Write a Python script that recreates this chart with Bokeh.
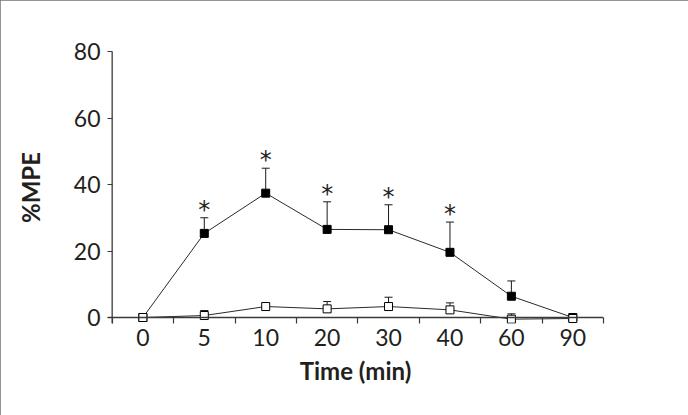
from bokeh.plotting import figure
from bokeh.models import (ColumnDataSource, FixedTicker, Range1d, Whisker, TeeHead, Span)
from bokeh.core.properties import value
from bokeh.embed import file_html
from bokeh.resources import INLINE

# ---- data ----
categories = ["0", "5", "10", "20", "30", "40", "60", "90"]
treated_mean = [0, 25.3, 37.4, 26.5, 26.4, 19.6, 6.4, 0.0]
treated_upper = [0, 30.0, 44.9, 34.8, 33.9, 28.7, 11.0, 0.5]
control_mean = [0, 0.6, 3.3, 2.6, 3.3, 2.3, -0.5, -0.3]
control_upper = [0, 2.1, 4.3, 4.8, 6.1, 4.4, 1.1, 0.0]
significant = [False, True, True, True, True, True, False, False]
y_ticks = [0, 20, 40, 60, 80]

xs = [i + 0.5 for i in range(len(categories))]

FONT = "Lato"
AXIS = "#3a3a3a"
TXT = "#231f20"

p = figure(width=688, height=415, output_backend="svg", toolbar_location=None,
           x_range=Range1d(-0.076, len(categories)), y_range=Range1d(-1.8, 80),
           min_border_left=107, min_border_right=85, min_border_top=51, min_border_bottom=92)
p.outline_line_color = None
p.xgrid.visible = False
p.ygrid.visible = False
p.background_fill_color = "white"
p.border_fill_color = "white"
p.styles = {"outline": "2px solid #707070", "outline-offset": "-2px"}

treat = ColumnDataSource(dict(x=xs, mean=treated_mean, upper=treated_upper))
ctrl = ColumnDataSource(dict(x=xs, mean=control_mean, upper=control_upper))
stars = ColumnDataSource(dict(
    x=[x for x, s in zip(xs, significant) if s],
    y=[u for u, s in zip(treated_upper, significant) if s],
    t=["*" for s in significant if s]))

# axis lines crossing at the origin
p.add_layout(Span(location=0, dimension="width", line_color=AXIS, line_width=1.3))
p.add_layout(Span(location=0, dimension="height", line_color=AXIS, line_width=1.3))

for src in (treat, ctrl):
    w = Whisker(base="x", upper="upper", lower="mean", source=src,
                line_color="#1a1a1a", line_width=1,
                upper_head=TeeHead(size=8, line_color="#1a1a1a", line_width=1),
                lower_head=None, level="underlay")
    p.add_layout(w)

p.line("x", "mean", source=treat, line_color="#2a2a2a", line_width=1)
p.line("x", "mean", source=ctrl, line_color="#2a2a2a", line_width=1)
p.scatter("x", "mean", source=treat, marker="square", size=8,
          fill_color="black", line_color="black")
p.scatter("x", "mean", source=ctrl, marker="square", size=8,
          fill_color="white", line_color="black", line_width=1)

p.text("x", "y", text="t", source=stars, text_font=value("DejaVu Sans"),
       text_font_size="24px", text_align="center", text_baseline="middle",
       y_offset=-8, text_color="#222222")

# x axis (at frame bottom; ticks reach up to the y=0 line)
xa = p.xaxis[0]
xa.ticker = FixedTicker(ticks=xs, minor_ticks=list(range(len(categories) + 1)))
xa.major_label_overrides = {x: c for x, c in zip(xs, categories)}
xa.major_tick_out = 0
xa.major_tick_in = 0
xa.minor_tick_out = 0
xa.minor_tick_in = 6
xa.minor_tick_line_color = AXIS
xa.minor_tick_line_width = 1.2
xa.axis_label = "Time (min)"

# y axis (at frame left; ticks reach to the x=0 line)
ya = p.yaxis[0]
ya.ticker = FixedTicker(ticks=y_ticks, minor_ticks=[])
ya.major_tick_out = 0
ya.major_tick_in = 5
ya.major_tick_line_width = 1.2
ya.axis_label = "%MPE"

for ax in (xa, ya):
    ax.axis_line_color = None
    ax.major_tick_line_color = AXIS
    ax.major_label_text_font = FONT
    ax.major_label_text_font_size = "23px"
    ax.major_label_text_color = TXT
    ax.axis_label_text_font = FONT
    ax.axis_label_text_font_size = "24px"
    ax.axis_label_text_font_style = "bold"
    ax.axis_label_text_color = TXT

xa.major_label_standoff = 5
xa.axis_label_standoff = 7
ya.major_label_standoff = 7
ya.axis_label_standoff = 26

open("out.html", "w").write(file_html(p, INLINE))
